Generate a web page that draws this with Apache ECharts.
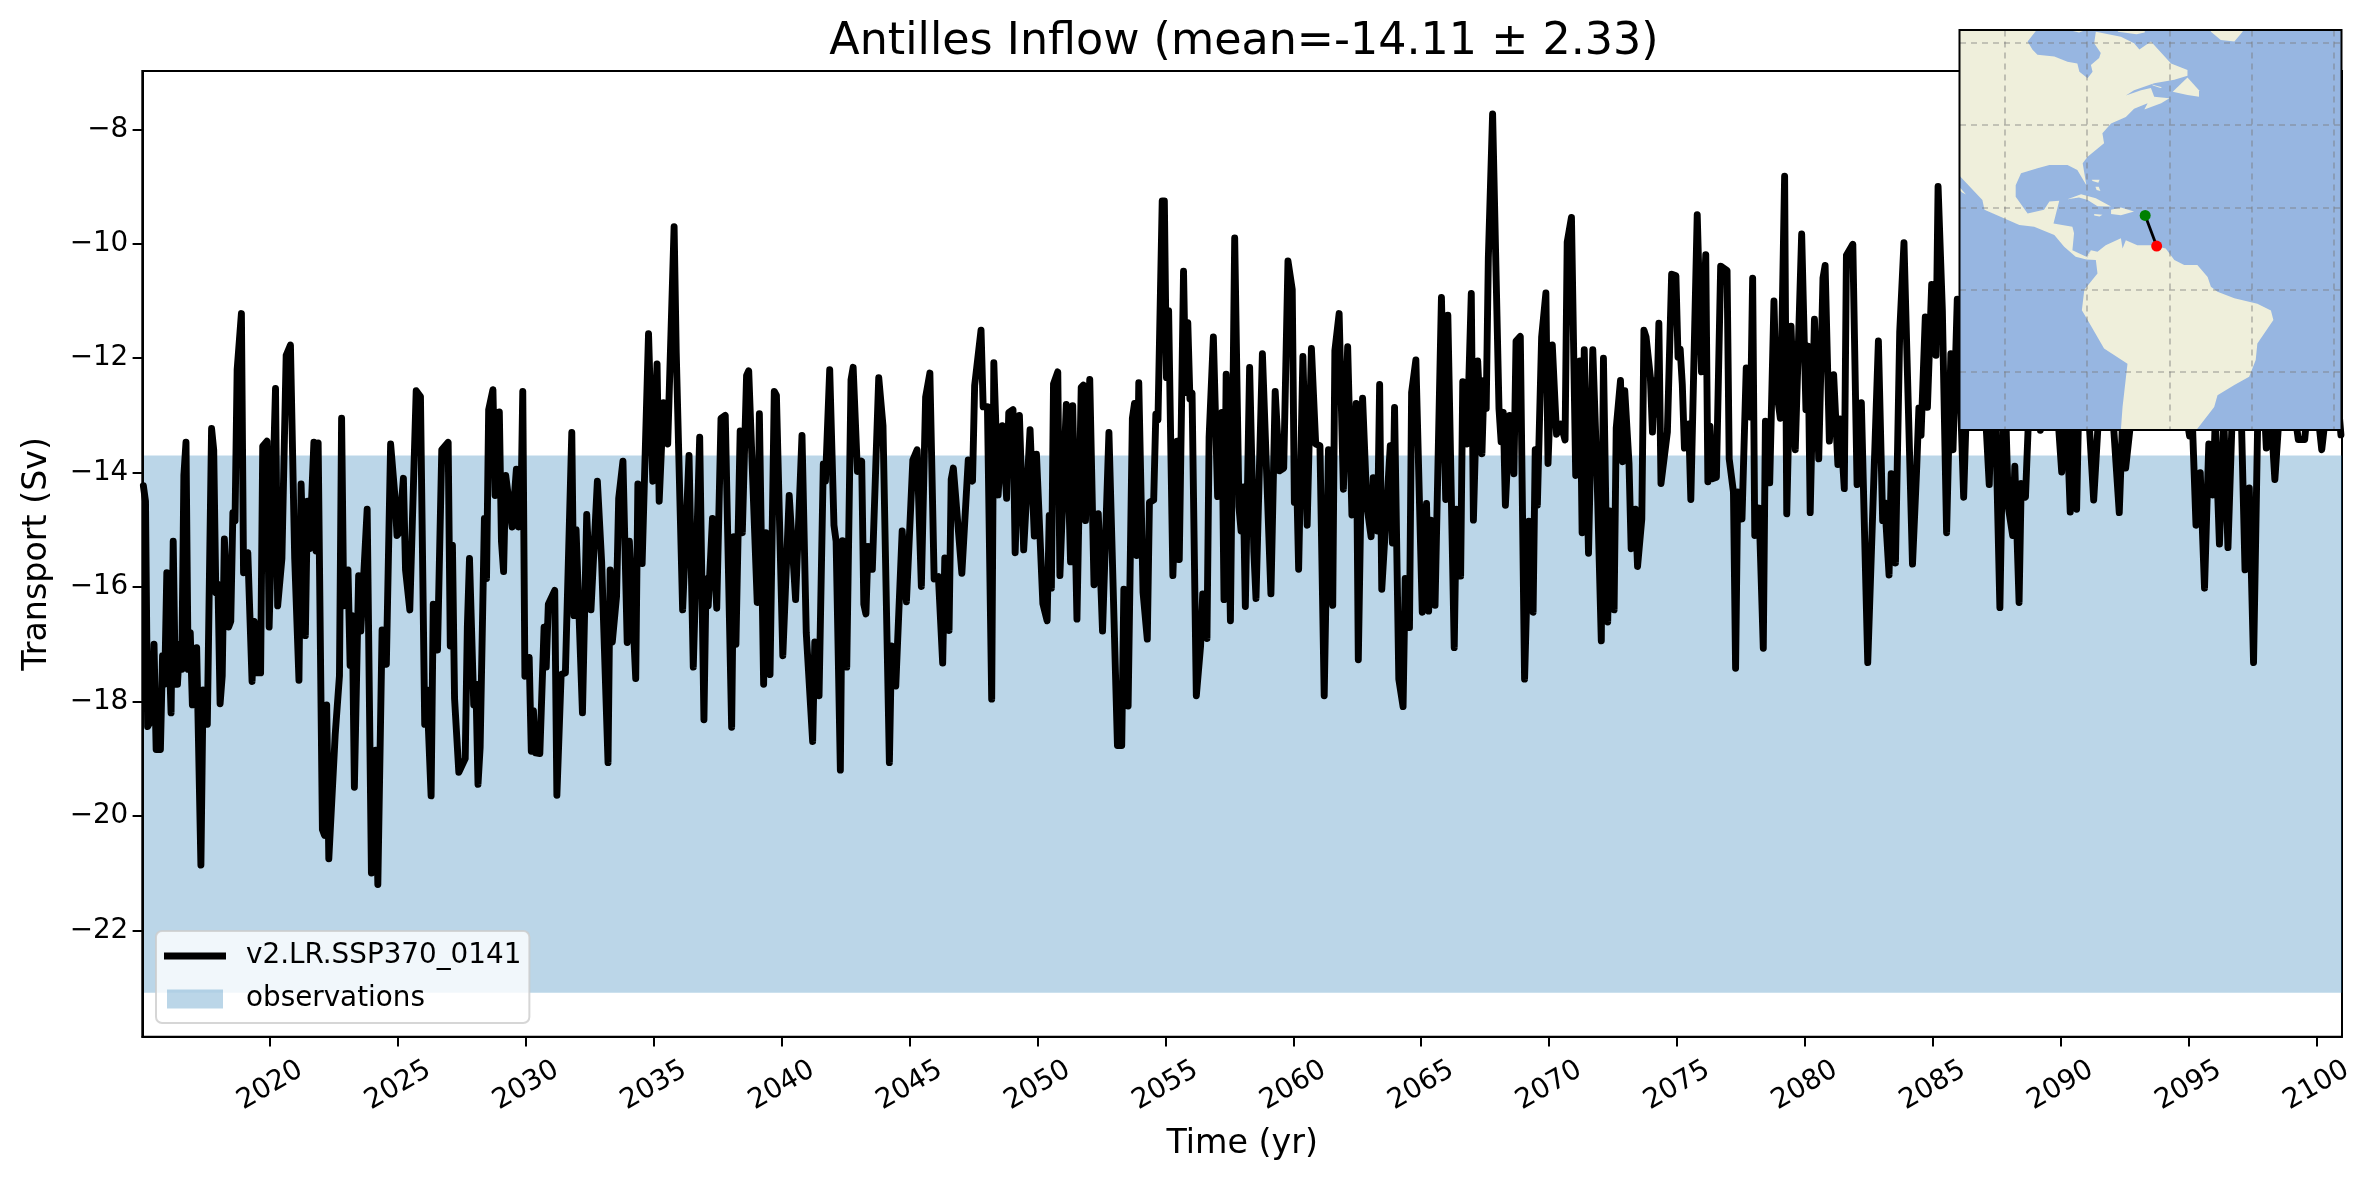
<!DOCTYPE html>
<html><head><meta charset="utf-8">
<script src="https://cdn.jsdelivr.net/npm/echarts@6/dist/echarts.min.js"></script>
<style>html,body{margin:0;padding:0;background:#fff}#c{width:2376px;height:1180px}</style>
</head><body><div id="c"></div>
<script>
const chartTitle = 'Antilles Inflow (mean=-14.11 \u00b1 2.33)';
const runName = 'v2.LR.SSP370_0141';
const obsName = 'observations';
const obsRange = [-13.70, -23.09];
const yearTicks = [2020,2025,2030,2035,2040,2045,2050,2055,2060,2065,2070,2075,2080,2085,2090,2095,2100];
const transportTicks = [-22,-20,-18,-16,-14,-12,-10,-8];
const yearLim = [2015, 2101];
const transportLim = [-23.86, -6.98];

// months since Jan 2015 of each traced turning point, with its transport (Sv)
const monthIndex = [
0,1,2,4,5,6,8,9,10,11,13,14,15,16,17,18,19,20,21,22,23,25,27,28,30,32,33,34,35,36,
37,38,40,41,42,43,44,46,47,49,51,52,53,55,56,58,59,62,63,65,67,69,71,73,74,76,77,78,80,81,
82,84,85,86,87,90,92,93,94,96,97,98,99,101,102,105,107,109,110,112,114,116,118,119,120,122,123,125,128,130,
132,133,135,136,138,140,143,144,145,146,148,151,152,153,155,156,157,158,160,161,162,164,165,167,168,169,170,173,175,176,
177,178,179,181,182,183,184,186,188,189,190,193,194,196,198,201,202,203,206,208,210,213,215,218,219,220,222,223,225,227,
228,231,232,234,237,239,241,242,244,246,249,250,253,256,258,261,263,264,265,267,269,271,273,276,277,278,280,281,283,284,
288,289,291,292,294,296,297,300,303,306,309,311,314,315,317,319,320,322,324,325,327,328,330,332,333,335,337,338,339,340,
342,345,347,350,351,353,356,358,361,363,365,367,369,371,373,375,376,378,379,380,384,387,389,390,393,394,396,398,399,401,
403,405,406,408,409,411,413,416,418,419,422,424,425,426,427,429,430,433,435,436,438,440,441,442,444,446,448,450,453,457,
459,460,462,464,465,466,467,469,471,472,474,475,476,478,479,480,481,483,485,486,488,489,490,491,492,494,496,497,499,500,
502,504,506,507,508,510,512,514,515,516,517,519,521,522,525,529,531,533,535,537,539,540,541,542,544,546,548,550,552,554,
556,558,559,561,563,565,567,569,570,572,574,576,577,579,580,581,585,586,587,589,591,592,594,595,597,600,602,603,604,606,
609,611,612,615,616,618,619,621,623,624,626,628,629,630,631,633,636,637,638,639,641,643,644,646,648,650,652,653,654,656,
658,659,661,663,665,667,668,670,672,674,675,676,678,680,682,684,685,687,688,690,691,693,694,695,697,698,700,701,703,704,
705,707,708,709,710,711,712,715,717,719,720,721,722,723,725,726,729,731,733,734,735,736,738,740,743,744,746,747,748,750,
752,754,755,756,758,760,761,763,765,766,768,770,771,773,775,778,780,781,782,784,786,788,789,791,793,795,796,798,799,802,
804,806,809,814,816,817,819,820,822,824,826,830,832,833,834,836,837,839,841,842,844,846,848,849,851,854,856,858,860,862,
864,866,868,871,873,875,877,878,880,881,883,885,887,890,893,896,898,900,902,904,906,907,908,910,912,913,915,917,919,922,
924,927,929,930,933,936,940,944,948,952,956,958,960,961,963,965,967,969,971,972,974,976,978,980,982,984,986,988,990,992,
994,996,998,1000,1002,1005,1008,1011,1014,1017,1020,1022,1025,1028,1031
];
const transport = [
-14.23,-14.5,-18.44,-18.3,-17.0,-18.84,-18.84,-17.2,-17.7,-15.75,-18.2,-15.2,-17.7,-17.7,-17.0,-17.44,-14.05,-13.47,-17.44,-16.8,-18.06,-17.06,-20.86,-17.8,-18.4,-13.23,-13.6,-16.1,-15.95,-18.04,
-17.55,-15.16,-16.7,-16.6,-14.7,-14.85,-12.2,-11.22,-15.75,-15.4,-17.65,-16.6,-17.5,-17.5,-13.54,-13.45,-16.7,-12.53,-16.33,-15.5,-11.95,-11.77,-15.5,-17.63,-14.2,-16.85,-14.5,-15.33,-13.47,-15.37,
-13.48,-20.24,-20.34,-18.06,-20.75,-18.58,-17.55,-13.05,-16.33,-15.7,-17.37,-16.5,-19.5,-15.8,-16.77,-14.64,-21.0,-18.85,-21.2,-16.75,-17.35,-13.5,-14.4,-15.1,-15.05,-14.1,-15.7,-16.4,-12.57,-12.67,
-18.4,-17.8,-19.65,-16.3,-17.1,-13.6,-13.47,-17.03,-15.27,-17.95,-19.24,-19.0,-16.7,-15.5,-18.06,-17.7,-19.45,-18.8,-14.8,-15.85,-12.9,-12.55,-14.4,-12.94,-15.2,-15.73,-14.05,-14.95,-13.94,-14.95,
-14.93,-12.58,-17.56,-17.23,-18.87,-18.16,-18.9,-18.91,-16.7,-17.4,-16.3,-16.06,-19.64,-17.53,-17.5,-13.3,-16.5,-15.0,-18.2,-14.73,-16.4,-14.15,-15.56,-19.07,-15.7,-16.96,-16.16,-14.45,-13.8,-16.97,
-15.2,-17.6,-14.2,-15.59,-11.57,-14.15,-12.1,-14.5,-12.78,-13.5,-9.7,-11.9,-16.4,-13.7,-17.4,-13.38,-18.32,-15.86,-16.33,-14.8,-16.37,-13.05,-13.0,-18.45,-15.12,-17.0,-13.27,-15.05,-12.3,-12.22,
-16.27,-12.97,-17.7,-15.05,-17.53,-12.58,-12.65,-17.2,-14.4,-16.22,-13.35,-16.8,-18.7,-16.96,-17.9,-13.85,-14.15,-12.2,-14.92,-15.2,-19.2,-15.19,-17.4,-12.38,-12.16,-13.98,-13.8,-16.3,-16.47,-15.29,
-15.69,-12.34,-13.18,-19.07,-17.03,-17.73,-15.02,-16.26,-13.78,-13.6,-15.99,-12.68,-12.26,-15.86,-15.82,-17.33,-15.49,-16.76,-14.12,-13.92,-15.76,-13.78,-14.15,-12.48,-11.51,-12.85,-12.85,-17.96,-12.08,-14.39,
-13.18,-14.45,-12.95,-12.9,-15.4,-13.0,-15.35,-13.25,-15.11,-13.68,-16.29,-16.59,-14.75,-16.02,-12.45,-12.24,-15.8,-12.81,-15.56,-12.83,-16.56,-12.51,-12.47,-14.84,-12.37,-15.96,-14.72,-16.77,-13.3,-18.77,
-18.77,-16.04,-18.08,-13.05,-12.79,-15.45,-12.43,-16.09,-16.91,-14.52,-14.48,-12.98,-13.08,-9.25,-9.25,-12.34,-11.17,-15.8,-13.45,-15.52,-10.48,-12.6,-11.38,-12.71,-12.61,-17.9,-17.03,-16.12,-16.9,-13.38,
-11.63,-14.42,-12.95,-16.22,-12.28,-16.59,-9.9,-14.6,-15.02,-14.25,-16.34,-12.16,-15.39,-16.2,-11.92,-16.12,-12.58,-13.97,-13.92,-10.3,-10.8,-14.52,-13.98,-15.69,-11.97,-14.92,-11.83,-13.5,-13.53,-17.9,
-13.6,-16.32,-11.87,-11.22,-14.29,-11.8,-14.74,-12.79,-17.27,-12.7,-14.57,-15.12,-14.09,-15.02,-12.46,-16.04,-13.53,-15.23,-12.86,-17.61,-18.09,-15.85,-16.71,-12.6,-12.03,-16.44,-14.54,-16.42,-14.83,-16.32,
-10.94,-14.47,-11.25,-17.06,-14.64,-15.81,-12.41,-13.5,-10.87,-14.83,-12.05,-13.67,-12.39,-12.88,-10.25,-7.73,-12.88,-13.46,-12.95,-14.57,-13.0,-14.02,-11.7,-11.62,-17.61,-14.85,-16.44,-13.6,-14.57,-11.63,
-10.86,-13.84,-11.77,-13.33,-13.15,-13.43,-9.97,-9.54,-14.05,-12.05,-15.05,-11.85,-15.41,-11.85,-14.05,-16.94,-12.0,-16.61,-14.67,-16.4,-13.22,-12.39,-13.81,-12.57,-13.84,-15.33,-14.64,-15.64,-14.81,-11.51,
-11.63,-12.32,-13.29,-12.39,-12.98,-11.39,-14.19,-13.29,-10.53,-10.56,-11.98,-11.84,-12.46,-13.57,-13.15,-14.47,-9.49,-12.24,-10.19,-14.16,-13.19,-14.11,-14.08,-10.39,-10.47,-13.76,-14.34,-17.42,-14.34,-14.81,
-12.17,-13.03,-10.6,-15.1,-14.62,-17.07,-13.1,-14.18,-11.0,-12.49,-13.05,-8.82,-14.72,-11.44,-13.6,-9.83,-12.9,-11.79,-14.7,-11.32,-13.76,-10.6,-10.38,-13.45,-12.29,-13.86,-13.06,-14.28,-10.2,-10.01,
-14.21,-12.78,-17.32,-11.7,-14.84,-14.53,-15.79,-14.02,-15.58,-11.54,-9.98,-15.6,-13.89,-12.87,-13.35,-11.28,-12.86,-10.71,-11.95,-9.0,-11.16,-15.05,-11.92,-13.6,-10.97,-14.43,-12.0,-11.0,-12.5,-11.5,
-12.8,-14.21,-11.5,-16.36,-12.0,-14.62,-15.1,-13.89,-16.27,-14.19,-14.43,-12.5,-11.5,-13.26,-11.8,-12.3,-12.9,-13.99,-12.6,-14.69,-13.0,-14.64,-12.8,-11.5,-12.8,-13.2,-14.48,-13.2,-11.8,-12.5,
-13.0,-14.7,-12.6,-13.92,-12.9,-11.5,-12.3,-11.0,-12.4,-11.6,-12.7,-12.9,-13.36,-12.8,-14.92,-14.0,-16.02,-13.5,-14.39,-13.1,-15.25,-13.0,-15.31,-13.0,-11.5,-12.6,-15.7,-14.27,-17.32,-13.0,
-12.0,-13.57,-12.9,-14.12,-13.0,-11.8,-12.6,-13.42,-13.42,-12.2,-12.9,-13.6,-12.6,-12.0,-13.34
];

// inset map, longitude/latitude
const lonLim = [-110.95, -18.25];
const latLim = [-34, 63];
const lonGrid = [-100,-80,-60,-40,-20];
const latGrid = [-20,0,20,40,60];
const oceanBox = [[lonLim[0],latLim[0]],[lonLim[1],latLim[0]],[lonLim[1],latLim[1]],[lonLim[0],latLim[1]]];
const northAmerica = [[-115,66],[-92.5,66],[-92.5,62.9],[-94.5,60.3],[-93.3,58.3],[-92.1,57.1],[-88,56.7],[-84.8,55.4],[-82.4,55],[-81.9,53],[-79.9,51.4],[-78.7,53],[-79.1,54.6],[-77.1,56.3],[-76.7,57.5],[-78.3,59.9],[-77.9,62.7],[-71.8,61.5],[-68.6,59.9],[-67.3,58.4],[-64.5,60.3],[-59.6,55],[-55.6,53.4],[-55.6,52],[-58.8,51],[-63.7,50.2],[-68.6,48.5],[-70.6,47.2],[-66.9,48.5],[-64.5,49],[-63.7,46.9],[-60,46.5],[-62,45.3],[-66.1,43.8],[-65.3,45.3],[-68.6,44],[-70.6,42],[-74.2,40.4],[-76.3,38],[-75.9,35.6],[-79.9,32.3],[-81.1,30.7],[-80.2,25.4],[-82.4,29.1],[-84.8,30.3],[-89.2,30.3],[-92.1,29.5],[-96.1,28.3],[-97.4,25.4],[-97.4,22.6],[-94.5,18.5],[-90.5,19.4],[-89.2,21.4],[-86.8,21.6],[-88.2,16.1],[-83.6,15.3],[-83.2,13.7],[-83.6,9.6],[-80.2,8],[-79.1,9.6],[-80.2,7.3],[-82.8,8],[-85.6,10.4],[-88,13.3],[-92.9,15.3],[-96.5,15.7],[-105,19.4],[-105.5,21.8],[-110.9,27.5],[-112.4,28.7],[-115,30]];
const southAmerica = [[-79.1,9.6],[-77.5,9.2],[-75.5,10.8],[-71.8,12.5],[-71.4,10],[-70.6,12],[-67.8,10.8],[-64.5,10.8],[-60.9,10],[-58.8,7.2],[-56.4,6],[-53.2,6],[-50.7,3.1],[-49.9,0.7],[-48.3,-0.5],[-44.2,-2.1],[-38.6,-3.4],[-35.3,-5.1],[-34.7,-7.4],[-38.6,-13.1],[-39,-17.1],[-40.6,-21.2],[-44.2,-23.2],[-48.3,-25.7],[-49.1,-28.5],[-53.2,-33.8],[-54.8,-35.8],[-71.8,-35.8],[-71.8,-34],[-71.4,-28.5],[-70.2,-18],[-75.9,-14.3],[-79.9,-7.4],[-81.3,-5],[-80.7,0],[-77.5,3.9],[-77.9,7.2],[-80.2,7.3]];
const baja = [[-112,26],[-110.6,24.4],[-109.5,23.1],[-110.4,23.6],[-112,25]];
const cuba = [[-84.8,22],[-81.5,23.2],[-77.9,22.2],[-74.2,20.2],[-77.5,20.3],[-79.9,21.8],[-82,22.4]];
const hispaniola = [[-74.2,19.4],[-71.8,20],[-68.6,19],[-71.8,18.1],[-74.2,18.4]];
const jamaica = [[-78.3,18.4],[-76.3,18.2],[-77,17.8],[-78.3,18]];
const puertoRico = [[-67.2,18.5],[-65.6,18.4],[-65.8,18],[-67.2,18]];
const bahamasA = [[-78.9,26.7],[-77,26.7],[-77.3,26],[-78.7,26.4]];
const bahamasB = [[-78,25],[-77.2,25],[-76.8,24],[-77.7,24.2]];
const newfoundland = [[-59.2,48.1],[-55.6,51.6],[-52.8,48.5],[-52.8,46.9],[-55.6,47.3]];
const anticosti = [[-64.3,49.9],[-61.8,49.2],[-62.2,49],[-64,49.6]];
const greenland = [[-49.9,62.7],[-47.5,60.7],[-44.2,60.3],[-42.2,62.7],[-42,64],[-50,64]];
const baffin = [[-73,64],[-72.5,62.7],[-68,62.1],[-66,62.5],[-66,64]];
const coats = [[-83,63.2],[-81,62.9],[-82,62.5],[-83.5,62.9]];
const sectionLon = [-65.9, -63.1];
const sectionLat = [18.05, 10.6];
const sectionColors = ['#008000', '#ff0000'];

const landShapes = [northAmerica, southAmerica, baja, cuba, hispaniola, jamaica, puertoRico, bahamasA, bahamasB, newfoundland, anticosti, greenland, baffin, coats];
const mapShapes = [oceanBox].concat(landShapes);
const years = monthIndex.map(m => 2015 + (m + 0.5) / 12);
const font = '"DejaVu Sans"';
const minus = v => String(v).replace('-', '\u2212');

const chart = echarts.init(document.getElementById('c'), null, {renderer: 'canvas'});
chart.setOption({
  animation: false,
  backgroundColor: '#fff',
  textStyle: {fontFamily: font, color: '#000'},
  title: {text: chartTitle, left: 1239, top: 15, textAlign: 'center',
    textStyle: {fontFamily: font, fontSize: 44.4, fontWeight: 'normal', color: '#000'}},
  grid: [
    {left: 142.3, top: 71, width: 2199.7, height: 965.7, show: true, borderColor: '#000', borderWidth: 2, backgroundColor: 'transparent'},
    {left: 1960, top: 30.5, width: 381, height: 399}
  ],
  xAxis: [
    {type: 'value', gridIndex: 0, min: yearLim[0], max: yearLim[1], z: 6, splitLine: {show: false},
      name: 'Time (yr)', nameLocation: 'middle', nameGap: 91,
      nameTextStyle: {fontFamily: font, fontSize: 33.3, color: '#000'},
      axisLine: {onZero: false, lineStyle: {color: '#000', width: 2}},
      axisTick: {customValues: yearTicks, length: 9.7, lineStyle: {color: '#000', width: 2}},
      axisLabel: {customValues: yearTicks, rotate: 30, align: 'center', verticalAlign: 'middle', margin: 49,
        fontFamily: font, fontSize: 27.8, color: '#000', formatter: v => String(v)}},
    {type: 'value', gridIndex: 1, min: lonLim[0], max: lonLim[1], z: 30,
      axisLine: {show: false}, axisLabel: {show: false},
      axisTick: {show: false, customValues: lonGrid},
      splitLine: {show: true, lineStyle: {color: 'rgba(120,120,120,0.5)', width: 1.6, type: [6, 5]}}}
  ],
  yAxis: [
    {type: 'value', gridIndex: 0, min: transportLim[0], max: transportLim[1], z: 6, splitLine: {show: false},
      name: 'Transport (Sv)', nameLocation: 'middle', nameGap: 88,
      nameTextStyle: {fontFamily: font, fontSize: 33.3, color: '#000'},
      axisLine: {onZero: false, lineStyle: {color: '#000', width: 2}},
      axisTick: {customValues: transportTicks, length: 9.7, lineStyle: {color: '#000', width: 2}},
      axisLabel: {customValues: transportTicks, margin: 14, padding: [3, 0, 0, 0], fontFamily: font, fontSize: 27.8, color: '#000', formatter: minus}},
    {type: 'value', gridIndex: 1, min: latLim[0], max: latLim[1], z: 30,
      axisLine: {show: false}, axisLabel: {show: false},
      axisTick: {show: false, customValues: latGrid},
      splitLine: {show: true, lineStyle: {color: 'rgba(120,120,120,0.5)', width: 1.6, type: [6, 5]}}}
  ],
  legend: {
    left: 156, top: 931, orient: 'vertical', z: 20, padding: [11, 8, 10, 8],
    itemWidth: 62, itemHeight: 19, itemGap: 15,
    backgroundColor: 'rgba(255,255,255,0.8)', borderColor: 'rgba(204,204,204,0.8)', borderWidth: 2, borderRadius: 6,
    textStyle: {fontFamily: font, fontSize: 27.8, color: '#000', padding: [0, 0, 0, 15]},
    selectedMode: false,
    data: [
      {name: runName, icon: 'path://M0,0H62V7H0Z', itemStyle: {color: '#000', borderWidth: 0}},
      {name: obsName, icon: 'path://M0,0H56V19H0Z', itemStyle: {color: 'rgba(31,119,180,0.3)', borderWidth: 0}}
    ]
  },
  series: [
    {name: obsName, type: 'line', xAxisIndex: 0, yAxisIndex: 0, z: 1, symbol: 'none', data: [],
      itemStyle: {color: 'rgba(31,119,180,0.3)'}, lineStyle: {width: 0},
      markArea: {silent: true, itemStyle: {color: 'rgba(31,119,180,0.3)', borderWidth: 0},
        data: [[{yAxis: obsRange[0]}, {yAxis: obsRange[1]}]]}},
    {name: runName, type: 'line', xAxisIndex: 0, yAxisIndex: 0, z: 5, symbol: 'none', clip: true,
      data: years.map((y, i) => [y, transport[i]]),
      itemStyle: {color: '#000'},
      lineStyle: {color: '#000', width: 6.9, join: 'round', cap: 'round'}},
    {name: 'map', type: 'custom', xAxisIndex: 1, yAxisIndex: 1, z: 10, clip: true, silent: true,
      data: mapShapes.map((s, i) => [s[0][0], s[0][1], i]),
      renderItem: (params, api) => {
        const i = params.dataIndex;
        return {type: 'polygon', shape: {points: mapShapes[i].map(p => api.coord(p))},
          style: {fill: i === 0 ? '#97b6e1' : '#efefdb', stroke: null}};
      }},
    {name: 'section', type: 'line', xAxisIndex: 1, yAxisIndex: 1, z: 40, silent: true,
      symbol: 'circle', symbolSize: 11, showSymbol: true, clip: false,
      lineStyle: {color: '#000', width: 2.8},
      data: sectionLon.map((lon, i) => ({value: [lon, sectionLat[i]], itemStyle: {color: sectionColors[i]}}))}
  ],
  graphic: [{type: 'rect', z: 50, silent: true, shape: {x: 1959.5, y: 30, width: 382, height: 400},
    style: {fill: null, stroke: '#000', lineWidth: 2}}]
});
</script></body></html>
